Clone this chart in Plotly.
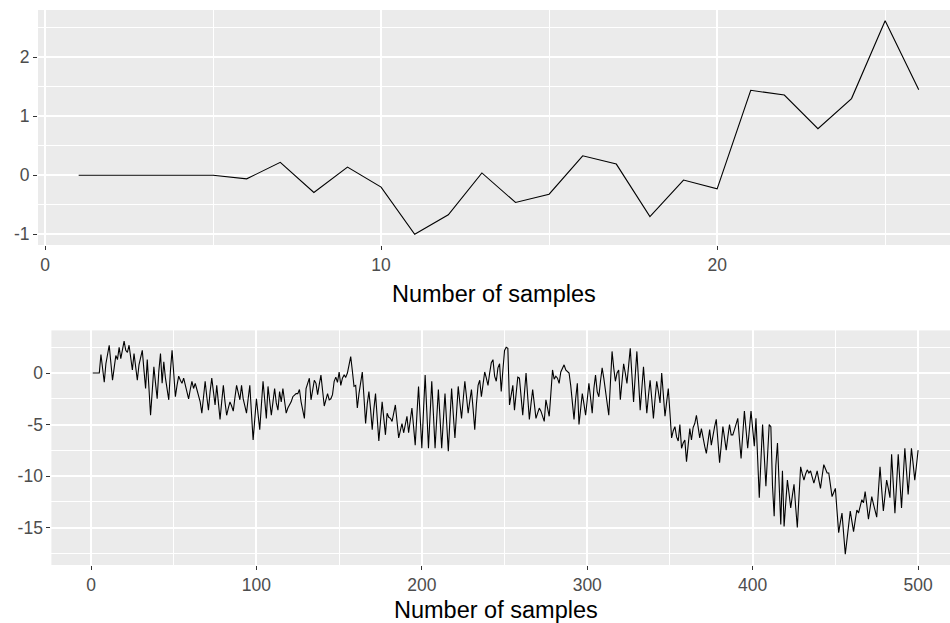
import plotly.graph_objects as go

# ---- data: top panel (first 26 samples) ----
top_samples = list(range(1, 27))
top_values = [0, 0, 0, 0, 0, -0.06, 0.22, -0.29, 0.14, -0.2,
              -1.0, -0.67, 0.04, -0.46, -0.32, 0.33, 0.19, -0.7, -0.08, -0.23,
              1.44, 1.36, 0.79, 1.3, 2.62, 1.45]

# ---- data: bottom panel (500 samples) ----
bottom_values = [
    0, 0, 0, 0, 0, 1.8, 0.4, -0.9, 0.9, 2.0,
    2.7, 1.0, -0.7, 0.5, 1.7, 1.3, 2.5, 1.4, 2.2, 3.1,
    2.2, 2.0, 2.7, 1.5, 0.3, 1.9, 0.6, -0.7, 0.8, 1.5,
    2.2, 0.3, -1.5, 1.3, -1.4, -4.1, -1.8, 0.6, -1.0, -2.5,
    0.2, 1.9, -1.0, 1.1, -0.5, -1.8, -2.6, 0.2, 2.2, 0.0,
    -2.3, -1.2, -0.3, -0.7, -1.0, -0.5, -1.2, -1.9, -2.5, -1.6,
    -0.8, -1.5, -1.0, -1.6, -2.2, -2.8, -3.9, -2.3, -0.8, -2.3,
    -3.6, -1.8, -0.5, -1.8, -3.1, -1.2, -2.8, -4.5, -2.8, -1.2,
    -2.8, -4.1, -3.4, -2.8, -3.2, -3.7, -2.4, -1.2, -1.9, -2.6,
    -1.2, -2.5, -3.2, -3.9, -2.5, -1.2, -3.9, -6.5, -4.5, -2.5,
    -4.0, -5.5, -3.1, -0.8, -2.6, -4.4, -1.3, -2.7, -4.1, -2.8,
    -1.5, -2.9, -3.6, -1.8, -2.8, -1.5, -2.7, -3.9, -3.4, -3.1,
    -2.8, -2.3, -2.1, -2.0, -2.0, -1.6, -2.8, -3.6, -4.4, -1.5,
    -1.0, -0.5, -2.6, -1.5, -0.7, -1.0, -2.1, -1.1, -0.2, -1.7,
    -3.2, -2.6, -2.0, -2.6, -2.5, -2.1, -0.8, -0.4, -0.9, 0.1,
    -1.2, -0.5, -0.2, -0.4, 0.0, 0.8, 1.6, 0.2, -1.3, -1.2,
    -3.4, -2.0, -1.0, 0.1, -2.3, -4.9, -3.0, -1.8, -3.5, -5.5,
    -3.5, -2.0, -4.3, -6.6, -4.7, -2.8, -4.4, -6.0, -3.9, -4.3,
    -4.4, -4.7, -3.9, -3.1, -4.7, -6.3, -5.6, -4.9, -5.8, -5.0,
    -4.2, -5.8, -4.6, -3.4, -5.2, -7.0, -4.1, -1.3, -4.3, -7.3,
    -3.7, -0.2, -3.7, -7.3, -4.0, -0.8, -4.0, -7.3, -4.4, -1.6,
    -4.4, -7.3, -4.6, -2.0, -4.8, -7.6, -4.5, -1.5, -4.0, -6.3,
    -3.8, -1.3, -2.9, -4.4, -2.6, -0.8, -2.3, -3.9, -2.7, -1.6,
    -3.5, -5.5, -3.0, -1.2, -0.7, -2.3, -1.1, 0.1, -0.5, -1.2,
    0.0, 1.0, 1.3, -0.3, -0.8, 0.5, 0.9, -1.8, 0.3, 2.2,
    2.5, 2.4, -3.1, -2.0, -1.2, -3.6, -2.0, -0.4, -0.5, -2.3,
    -4.1, -2.0, 0.0, -2.3, -4.5, -3.0, -1.6, -3.0, -4.4, -3.9,
    -3.4, -3.7, -4.2, -4.7, -2.6, -3.4, -4.2, -2.0, 0.3, -0.6,
    -0.3, -0.5, -1.0, 0.1, 0.5, 0.8, 0.3, 0.1, 0.0, -1.2,
    -2.9, -4.5, -2.5, -1.0, -5.0, -3.5, -2.0, -3.0, -4.1, -2.6,
    -1.0, -2.4, -3.9, -1.5, -0.2, -1.8, -2.3, -0.8, 0.5, -0.5,
    -1.6, -2.8, -4.1, -1.0, 2.1, 0.5, -0.8, 0.0, 0.3, -2.6,
    -0.8, 0.9, 0.0, -1.0, 0.7, 2.4, -0.2, -2.8, -0.3, 2.1,
    -0.7, -3.6, -1.5, 0.6, -1.6, -3.9, -2.2, -0.7, -2.5, -4.4,
    -2.5, -0.8, -1.8, -2.9, 0.0, -2.0, -4.2, -2.8, -1.5, -3.9,
    -6.3, -5.6, -5.2, -6.2, -6.6, -5.0, -7.3, -6.8, -6.5, -8.6,
    -7.0, -5.4, -6.5, -5.3, -4.9, -4.1, -5.2, -6.3, -5.4, -6.5,
    -7.1, -7.8, -6.6, -5.5, -7.0, -6.0, -5.2, -4.5, -6.6, -8.7,
    -7.0, -5.2, -6.3, -7.5, -6.2, -5.0, -6.0, -6.0, -5.5, -5.0,
    -4.4, -6.4, -8.3, -6.0, -3.7, -5.5, -7.3, -5.5, -3.7, -5.4,
    -7.1, -4.4, -8.2, -12.1, -8.5, -5.0, -8.0, -11.0, -8.0, -5.0,
    -5.2, -11.0, -13.9, -9.0, -6.8, -10.8, -14.7, -9.5, -14.9, -12.6,
    -10.4, -11.7, -13.1, -11.9, -10.8, -13.0, -15.0, -12.0, -9.1, -9.8,
    -10.4, -9.8, -9.4, -9.7, -9.5, -10.1, -10.7, -10.1, -9.5, -10.4,
    -11.2, -10.0, -8.9, -9.3, -9.7, -9.7, -10.8, -12.0, -11.6, -11.2,
    -13.4, -15.5, -14.5, -13.6, -15.6, -17.6, -16.2, -14.9, -13.4, -14.4,
    -15.4, -14.3, -13.3, -13.6, -13.0, -12.3, -12.6, -11.5, -12.8, -14.2,
    -13.1, -12.0, -12.7, -13.4, -14.0, -11.5, -9.1, -11.3, -13.4, -11.9,
    -10.4, -11.2, -12.1, -7.9, -10.7, -13.6, -10.8, -7.9, -10.5, -13.1,
    -10.2, -7.3, -9.5, -11.8, -9.5, -7.3, -8.8, -10.4, -9.0, -7.5,
]
bottom_samples = list(range(1, len(bottom_values) + 1))

# tick labels
top_x_ticks = [0, 10, 20]
top_y_ticks = [-1, 0, 1, 2]
top_y_labels = ["-1", "0", "1", "2"]
bot_x_ticks = [0, 100, 200, 300, 400, 500]
bot_y_ticks = [-15, -10, -5, 0]
bot_y_labels = ["-15", "-10", "-5", "0"]
x_title = "Number of samples"

W, H = 950, 623
FONT = "Liberation Sans, Arial, sans-serif"
PANEL = "#EBEBEB"

fig = go.Figure()
fig.add_trace(go.Scatter(x=top_samples, y=top_values, mode="lines",
                         line=dict(color="black", width=1.1),
                         xaxis="x", yaxis="y", showlegend=False))
fig.add_trace(go.Scatter(x=bottom_samples, y=bottom_values, mode="lines",
                         line=dict(color="black", width=1.1),
                         xaxis="x2", yaxis="y2", showlegend=False))

tickfont = dict(family=FONT, size=17.5, color="#4D4D4D")
common = dict(showline=False, zeroline=False, ticks="outside", ticklen=4,
              tickwidth=1.2, tickcolor="#333333", tickfont=tickfont,
              showgrid=True, gridcolor="white", gridwidth=1.8)
minor = dict(showgrid=True, gridcolor="white", gridwidth=0.8, ticks="")

def px_x(p):
    return p / W

def px_y(p):
    return 1 - p / H

fig.update_layout(
    width=W, height=H,
    margin=dict(l=0, r=0, t=0, b=0),
    paper_bgcolor="white", plot_bgcolor=PANEL,
    xaxis=dict(domain=[px_x(38), 1], range=[-0.21, 26.93],
               tickvals=top_x_ticks, anchor="y",
               minor=dict(tick0=0, dtick=5, **minor), **common),
    yaxis=dict(domain=[px_y(245), px_y(10)], range=[-1.181, 2.801],
               tickvals=top_y_ticks, ticktext=top_y_labels, anchor="x",
               minor=dict(tick0=0, dtick=0.5, **minor), **common),
    xaxis2=dict(domain=[px_x(51.4), 1], range=[-23.95, 519.3],
                tickvals=bot_x_ticks, anchor="y2",
                minor=dict(tick0=0, dtick=50, **minor), **common),
    yaxis2=dict(domain=[px_y(565), px_y(330.4)], range=[-18.64, 4.14],
                tickvals=bot_y_ticks, ticktext=bot_y_labels, anchor="x2",
                minor=dict(tick0=0, dtick=2.5, **minor), **common),
    annotations=[
        dict(text=x_title, x=494 / W, y=px_y(294), xref="paper", yref="paper",
             showarrow=False, xanchor="center", yanchor="middle",
             font=dict(family=FONT, size=23.5, color="black")),
        dict(text=x_title, x=496 / W, y=px_y(609.5), xref="paper", yref="paper",
             showarrow=False, xanchor="center", yanchor="middle",
             font=dict(family=FONT, size=23.5, color="black")),
    ],
)

fig.write_html("out.html")
